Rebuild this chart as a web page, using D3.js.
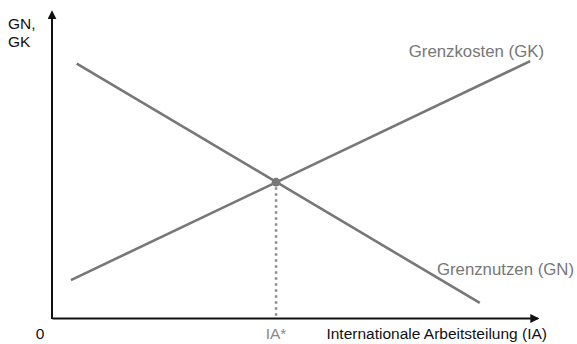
<!DOCTYPE html>
<html><head><meta charset="utf-8">
<script src="https://cdn.jsdelivr.net/npm/d3@7"></script>
<style>
html,body{margin:0;padding:0;background:#fff;}
svg{display:block;font-family:"Liberation Sans",Arial,Helvetica,sans-serif;}
</style></head>
<body>
<svg id="chart" width="577" height="344"></svg>
<script>
// Data (in abstract units 0..100)
const gnCurve = [[5.1, 82.6], [88.2, 4.9]];   // Grenznutzen
const gkCurve = [[3.9, 12.3], [98.6, 83.4]];  // Grenzkosten
const equilibrium = [46.2, 44.1];             // IA*
const xDomain = [0, 100];
const yDomain = [0, 100];
const yAxisLabel = ["GN,", "GK"];
const xAxisLabel = "Internationale Arbeitsteilung (IA)";
const originLabel = "0";
const eqLabel = "IA*";
const gnLabel = "Grenznutzen (GN)";
const gkLabel = "Grenzkosten (GK)";

const svg = d3.select("#chart");
const x = d3.scaleLinear().domain(xDomain).range([52, 537]);
const y = d3.scaleLinear().domain(yDomain).range([318, 10]);

const defs = svg.append("defs");
defs.append("marker").attr("id","arrow").attr("viewBox","0 0 10 10")
  .attr("refX",8).attr("refY",5).attr("markerWidth",9).attr("markerHeight",9)
  .attr("markerUnits","userSpaceOnUse").attr("orient","auto")
  .append("path").attr("d","M0,0 L10,5 L0,10 Z").attr("fill","#111");

// axes (domain lines only)
const xAxisG = svg.append("g").attr("transform",`translate(0,${y(0)})`)
  .call(d3.axisBottom(x).ticks(0).tickSizeOuter(0));
xAxisG.select(".domain").attr("stroke","#111").attr("stroke-width",2)
  .attr("marker-end","url(#arrow)");
const yAxisG = svg.append("g").attr("transform",`translate(${x(0)},0)`)
  .call(d3.axisLeft(y).ticks(0).tickSizeOuter(0));
yAxisG.select(".domain").attr("stroke","#111").attr("stroke-width",2)
  .attr("d", `M0,${y(0)+1}V${y(100)+2}`)
  .attr("marker-end","url(#arrow)");

// dotted vertical line
svg.append("line")
  .attr("x1", x(equilibrium[0])).attr("x2", x(equilibrium[0]))
  .attr("y1", y(equilibrium[1]) + 5).attr("y2", y(0))
  .attr("stroke","#8a8a8a").attr("stroke-width",2.5)
  .attr("stroke-dasharray","2.5,3.5");

const line = d3.line().x(d => x(d[0])).y(d => y(d[1]));
[gnCurve, gkCurve].forEach(c => {
  svg.append("path").attr("d", line(c)).attr("fill","none")
    .attr("stroke","#777").attr("stroke-width",2.6);
});

svg.append("circle").attr("cx", x(equilibrium[0])).attr("cy", y(equilibrium[1]))
  .attr("r",4.3).attr("fill","#777");

// texts
const t = (txt, px, py, anchor, color, size) => svg.append("text").text(txt)
  .attr("x",px).attr("y",py).attr("text-anchor",anchor||"start")
  .attr("fill",color||"#111").attr("font-size",size||15.5);
t(yAxisLabel[0], 8, 29);
t(yAxisLabel[1], 8, 47);
t(originLabel, 40, 339, "middle");
t(eqLabel, x(equilibrium[0]), 339, "middle", "#888");
t(xAxisLabel, 547, 339, "end");
t(gkLabel, 544, 57, "end", "#777", 16.8);
t(gnLabel, 574, 275, "end", "#777", 16.8);
</script>
</body></html>
